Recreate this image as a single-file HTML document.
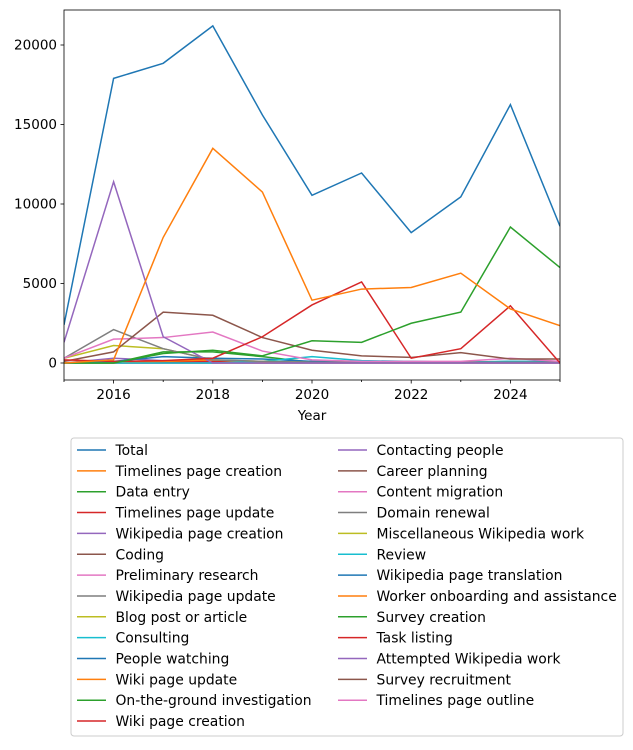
<!DOCTYPE html>
<html><head><meta charset="utf-8"><style>
body{margin:0;background:#fff;font-family:"Liberation Sans","DejaVu Sans",sans-serif;}
</style></head><body>
<svg id="chart" width="633" height="745" xmlns="http://www.w3.org/2000/svg" font-family="DejaVu Sans, Liberation Sans, sans-serif"></svg>
<script>
const years=[2015,2016,2017,2018,2019,2020,2021,2022,2023,2024,2025];
const seriesNames=["Total","Timelines page creation","Data entry","Timelines page update","Wikipedia page creation","Coding","Preliminary research","Wikipedia page update","Blog post or article","Consulting","People watching","Wiki page update","On-the-ground investigation","Wiki page creation","Contacting people","Career planning","Content migration","Domain renewal","Miscellaneous Wikipedia work","Review","Wikipedia page translation","Worker onboarding and assistance","Survey creation","Task listing","Attempted Wikipedia work","Survey recruitment","Timelines page outline"];
const s0=[2400,17900,18850,21200,15600,10550,11950,8200,10450,16250,8600];
const s1=[0,200,7900,13500,10750,3950,4650,4750,5650,3400,2350];
const s2=[0,0,600,800,450,1400,1300,2500,3200,8550,6000];
const s3=[200,100,150,300,1650,3650,5100,300,900,3600,0];
const s4=[1300,11400,1650,0,0,0,0,0,0,0,0];
const s5=[100,700,3200,3000,1600,800,450,350,650,250,250];
const s6=[300,1500,1600,1950,750,200,100,100,100,300,100];
const s7=[300,2100,900,200,100,50,50,50,50,50,50];
const s8=[300,1100,900,200,100,50,50,50,50,50,50];
const s9=[0,0,0,0,100,400,150,100,50,100,50];
const s10=[0,100,400,300,250,100,100,100,50,100,100];
const s11=[0,0,100,200,50,50,50,50,50,50,50];
const s12=[0,0,700,700,400,50,50,50,50,50,50];
const s13=[0,50,100,100,50,50,50,50,50,50,50];
const s14=[0,300,150,50,50,50,50,50,50,50,50];
const s15=[0,50,50,50,50,50,50,50,50,50,50];
const s16=[0,0,0,0,0,0,0,0,0,0,0];
const sData=[s0,s1,s2,s3,s4,s5,s6,s7,s8,s9,s10,s11,s12,s13,s14,s15,s16,s16,s16,s16,s16,s16,s16,s16,s16,s16,s16];
const yTicks=[0,5000,10000,15000,20000];
const xTicks=[2016,2018,2020,2022,2024];
const colors=["#1f77b4","#ff7f0e","#2ca02c","#d62728","#9467bd","#8c564b","#e377c2","#7f7f7f","#bcbd22","#17becf"];
const X0=64,X1=560,Y0=10,Y1=380;
const xs=v=>X0+(v-2015)/10*(X1-X0);
const ys=v=>363-v*0.0159;
const svg=document.getElementById('chart');
const NS="http://www.w3.org/2000/svg";
function mk(t,a,p){const e=document.createElementNS(NS,t);for(const k in a)e.setAttribute(k,a[k]);(p||svg).appendChild(e);return e;}
const clip=mk('clipPath',{id:'c'});mk('rect',{x:X0,y:Y0,width:X1-X0,height:Y1-Y0},clip);
for(let i=sData.length-1;i>=0;i--){
 const pts=years.map((y,j)=>xs(y)+','+ys(sData[i][j])).join(' ');
 const l=mk('polyline',{points:pts,fill:'none',stroke:colors[i%10],'stroke-width':1.5,'clip-path':'url(#c)'});
 
 
}
const fr=mk('rect',{x:X0,y:Y0,width:X1-X0,height:Y1-Y0,fill:'none',stroke:'#000','stroke-width':0.8});

yTicks.forEach(v=>{mk('line',{x1:X0-3.5,x2:X0,y1:ys(v),y2:ys(v),stroke:'#000','stroke-width':0.8});
 const t=mk('text',{x:X0-7,y:ys(v)+4.5,'text-anchor':'end','font-size':13.5});t.textContent=v;
 });
for(let y=2015;y<=2025;y++){mk('line',{x1:xs(y),x2:xs(y),y1:Y1,y2:Y1+(y%2===0?3.5:2),stroke:'#000','stroke-width':0.8});}
xTicks.forEach(v=>{const t=mk('text',{x:xs(v),y:Y1+19,'text-anchor':'middle','font-size':13.5});t.textContent=v;
 });
const xt=mk('text',{x:(X0+X1)/2,y:420,'text-anchor':'middle','font-size':13.5});xt.textContent='Year';

const lg=mk('g',{});
mk('rect',{x:71,y:438,width:552,height:298,rx:3,fill:'#fff',stroke:'#ccc'},lg);
seriesNames.forEach((n,i)=>{const col=i<14?0:1,row=i<14?i:i-14;const lx=col?338:77,ly=450+row*20.85;
 mk('line',{x1:lx,x2:lx+29,y1:ly,y2:ly,stroke:colors[i%10],'stroke-width':1.5},lg);
 const t=mk('text',{x:lx+38.5,y:ly+5,'font-size':13.9},lg);t.textContent=n;
 });
</script>
</body></html>
